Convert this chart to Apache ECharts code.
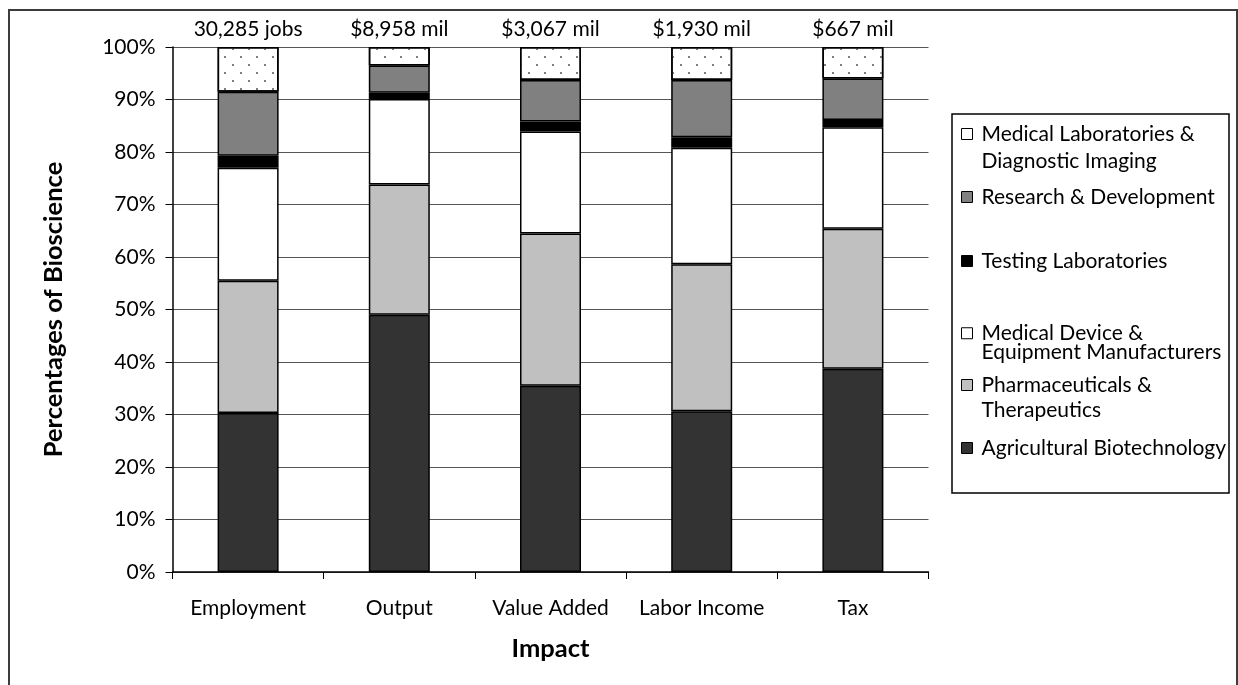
<!DOCTYPE html>
<html>
<head>
<meta charset="utf-8">
<script src="https://cdn.jsdelivr.net/npm/echarts@6/dist/echarts.min.js"></script>
<style>
  html, body { margin: 0; padding: 0; background: #fff; }
  #chart { width: 1238px; height: 685px; }
</style>
</head>
<body>
<div id="chart"></div>
<script>
// Impact categories along the x axis
const categories = ['Employment', 'Output', 'Value Added', 'Labor Income', 'Tax'];
// Totals printed above each column
const totals = ['30,285 jobs', '$8,958 mil', '$3,067 mil', '$1,930 mil', '$667 mil'];

// Share of each bioscience sector (percent), stacked bottom to top
const agricultural = [30.3, 49.0, 35.5, 30.6, 38.7];
const pharmaceuticals = [25.2, 24.8, 29.0, 28.0, 26.7];
const medicalDevice = [21.5, 16.3, 19.4, 22.2, 19.3];
const testingLabs = [2.3, 1.2, 1.9, 2.0, 1.4];
const research = [12.2, 5.2, 7.9, 10.9, 7.9];
const medicalLabs = [8.5, 3.5, 6.3, 6.3, 6.0];

const sectorNames = [
  'Agricultural Biotechnology',
  'Pharmaceuticals & Therapeutics',
  'Medical Device & Equipment Manufacturers',
  'Testing Laboratories',
  'Research & Development',
  'Medical Laboratories & Diagnostic Imaging'
];
const sectorLegendText = [
  'Agricultural Biotechnology',
  'Pharmaceuticals &\nTherapeutics',
  'Medical Device &\nEquipment Manufacturers',
  'Testing Laboratories',
  'Research & Development',
  'Medical Laboratories &\nDiagnostic Imaging'
];
const sectorValues = [agricultural, pharmaceuticals, medicalDevice, testingLabs, research, medicalLabs];
const sectorFills = ['#333333', '#c0c0c0', '#ffffff', '#000000', '#808080', '#ffffff'];

const FAMILY = 'Lato, "Noto Sans", sans-serif';
const FS = 21;
const FS_BOLD = 25.5;

// Legend rows, top to bottom: marker centre and line spacing.
// Two-line entries get a blank leading line so the marker sits on the first line.
const legendRows = [
  { idx: 5, center: 134, lh: 27 },
  { idx: 4, center: 197, lh: 24 },
  { idx: 3, center: 261, lh: 24 },
  { idx: 2, center: 332, lh: 18.5 },
  { idx: 1, center: 385, lh: 25 },
  { idx: 0, center: 448, lh: 24 }
];

const legends = legendRows.map(r => {
  const text = sectorLegendText[r.idx];
  const twoLine = text.indexOf('\n') >= 0;
  const shown = twoLine ? '\n' + text : text;
  const h = twoLine ? 3 * r.lh : r.lh;
  return {
    data: [sectorNames[r.idx]],
    orient: 'vertical',
    left: 961,
    top: r.center - h / 2,
    padding: 0,
    icon: 'rect',
    itemWidth: 11,
    itemHeight: 11,
    selectedMode: false,
    formatter: () => shown,
    itemStyle: { borderColor: '#000', borderWidth: 1, decal: 'none' },
    textStyle: {
      fontFamily: FAMILY, fontSize: FS, color: '#000', lineHeight: r.lh,
      padding: [0, 0, 0, 4]
    }
  };
});

// Stippled fill for the top segment
const dots = {
  symbol: 'circle',
  symbolSize: 1,
  color: '#555555',
  dashArrayX: [[2, 14], [0, 8, 2, 6]],
  dashArrayY: [2, 6],
  rotation: 0
};

const series = sectorNames.map((name, i) => ({
  name,
  type: 'bar',
  stack: 'share',
  barWidth: 61,
  data: sectorValues[i],
  itemStyle: Object.assign(
    { color: sectorFills[i], borderColor: '#000', borderWidth: 1.5 },
    i === 5 ? { decal: dots } : {}
  ),
  label: i === 5 ? {
    show: true,
    position: 'top',
    distance: 7,
    formatter: p => totals[p.dataIndex],
    fontFamily: FAMILY,
    fontSize: FS,
    color: '#000'
  } : { show: false }
}));

const chart = echarts.init(document.getElementById('chart'), null, { renderer: 'canvas' });
chart.setOption({
  animation: false,
  backgroundColor: '#fff',
  grid: { left: 172.5, right: 309.5, top: 47, bottom: 113, containLabel: false },
  xAxis: {
    type: 'category',
    data: categories,
    name: 'Impact',
    nameLocation: 'middle',
    nameGap: 64,
    nameTextStyle: { fontFamily: FAMILY, fontSize: FS_BOLD, fontWeight: 'bold', color: '#000' },
    axisLine: { lineStyle: { color: '#000', width: 1.5 } },
    axisTick: { show: true, length: 7, alignWithLabel: false, lineStyle: { color: '#000' } },
    axisLabel: { interval: 0, margin: 26, fontFamily: FAMILY, fontSize: FS, color: '#000' }
  },
  yAxis: {
    type: 'value',
    min: 0,
    max: 100,
    interval: 10,
    name: 'Percentages of Bioscience',
    nameLocation: 'middle',
    nameGap: 106,
    nameTextStyle: { fontFamily: FAMILY, fontSize: FS_BOLD, fontWeight: 'bold', color: '#000' },
    axisLine: { show: true, lineStyle: { color: '#000', width: 1.5 } },
    axisTick: { show: true, length: 7, lineStyle: { color: '#000' } },
    axisLabel: { margin: 17, formatter: '{value}%', fontFamily: FAMILY, fontSize: FS, color: '#000' },
    splitLine: { show: true, lineStyle: { color: '#555555', width: 1 } }
  },
  legend: legends,
  graphic: [
    {
      type: 'rect', silent: true, z: -1,
      shape: { x: 9, y: 10, width: 1228, height: 700 },
      style: { fill: null, stroke: '#3c3c3c', lineWidth: 2 }
    },
    {
      type: 'rect', silent: true,
      shape: { x: 952, y: 114, width: 277, height: 379 },
      style: { fill: null, stroke: '#000', lineWidth: 1.5 }
    }
  ],
  series
});
</script>
</body>
</html>
